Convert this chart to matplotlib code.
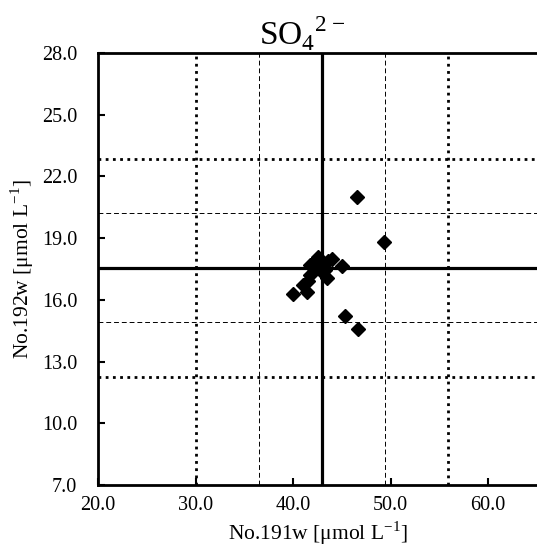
import matplotlib
matplotlib.use("Agg")
import matplotlib.pyplot as plt
from matplotlib.ticker import FormatStrFormatter

plt.rcParams['font.family'] = ['Liberation Serif', 'DejaVu Serif']
plt.rcParams['mathtext.fontset'] = 'custom'
plt.rcParams['mathtext.rm'] = 'Liberation Serif'
plt.rcParams['axes.unicode_minus'] = False

# No.191w vs No.192w, SO4 2- [umol/L]
x_vals = [46.5, 49.3, 45.3, 46.7,
          40.0, 41.0, 41.4, 41.5, 41.7, 41.7, 42.2, 42.6, 42.5, 43.0,
          43.5, 43.6, 44.0, 42.8, 45.0, 43.3]
y_vals = [21.0, 18.8, 15.2, 14.6,
          16.3, 16.7, 16.4, 16.9, 17.2, 17.7, 17.9, 18.1, 17.55, 17.35,
          17.05, 17.9, 18.0, 17.8, 17.65, 17.45]

# reference lines: mean, mean +/- sd, mean +/- 2sd
x_mean, x_sd = 42.97, 6.45
y_mean, y_sd = 17.57, 2.65

xticks = [20, 30, 40, 50, 60]
yticks = [7, 10, 13, 16, 19, 22, 25, 28]

fig = plt.figure(figsize=(5.37, 5.54), dpi=100)
ax = fig.add_axes([98/537, 69/554, 1 - 98/537, 432/554])

for k, style, lw in [(1, (0, (5, 3)), 0.7), (2, (0, (1, 1.6)), 2.0)]:
    for s in (-1, 1):
        ax.axvline(x_mean + s*k*x_sd, color='black', linestyle=style, lw=lw, zorder=1)
        ax.axhline(y_mean + s*k*y_sd, color='black', linestyle=style, lw=lw, zorder=1)
ax.axvline(x_mean, color='black', lw=2.3, zorder=2)
ax.axhline(y_mean, color='black', lw=2.3, zorder=2)

ax.plot(x_vals, y_vals, 'D', color='black', markersize=7, zorder=3)

ax.set_xlim(20, 65)
ax.set_ylim(7, 28)
ax.set_xticks(xticks)
ax.set_yticks(yticks)
ax.xaxis.set_major_formatter(FormatStrFormatter('%.1f'))
ax.yaxis.set_major_formatter(FormatStrFormatter('%.1f'))
ax.tick_params(axis='both', direction='in', length=5, width=1.5, labelsize=14.5)
ax.tick_params(axis='y', pad=15)
ax.tick_params(axis='x', pad=8)
ax.spines['right'].set_visible(False)
for side in ('left', 'bottom', 'top'):
    ax.spines[side].set_linewidth(2)

ax.set_xlabel(r'No.191w [μmol L$^{\mathregular{-1}}$]', fontsize=15.5, labelpad=3)
ax.set_ylabel(r'No.192w [μmol L$^{\mathregular{-1}}$]', fontsize=15.5, labelpad=4)
ax.set_title('SO$_{\\mathregular{4}}$$^{\\mathregular{2\u2212}}$', fontsize=24, x=0.465, pad=4)

fig.savefig('out.png', dpi=100)
